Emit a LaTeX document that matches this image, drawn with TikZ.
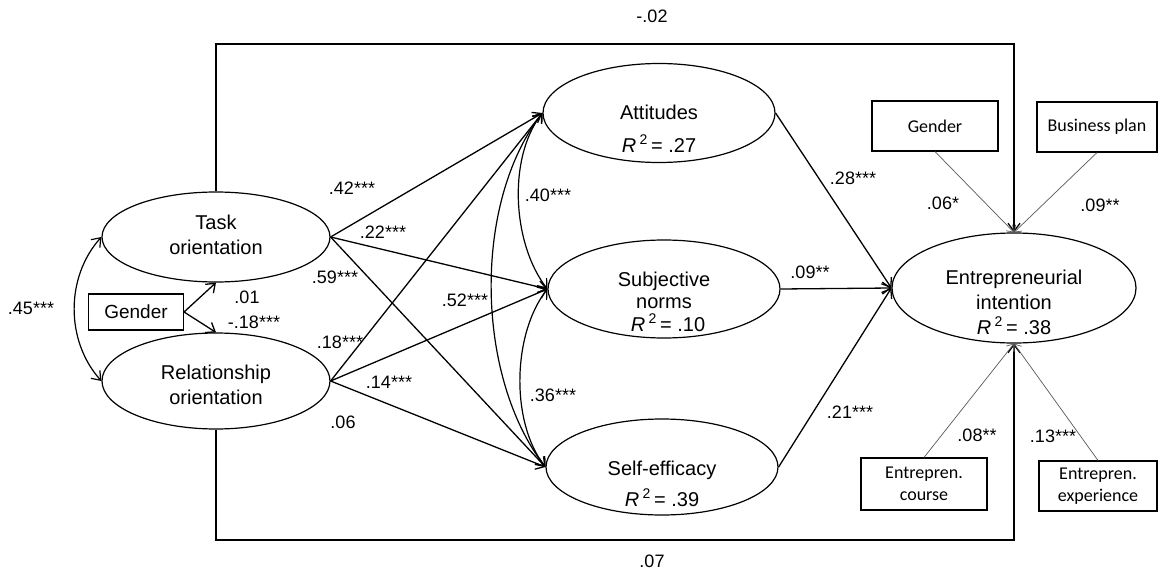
\documentclass[tikz,border=0pt]{standalone}
\usepackage{fontspec}
\setmainfont{Liberation Sans}
\newfontfamily\carlito{Carlito}
\usetikzlibrary{shapes.geometric,arrows.meta}
\begin{document}
\begin{tikzpicture}[x=1pt,y=-1pt,
  arr/.style={line width=1.3pt,-{Straight Barb[length=8pt,width=12pt]}},
  darr/.style={line width=1.2pt,{Straight Barb[length=8pt,width=12pt]}-{Straight Barb[length=8pt,width=12pt]}},
  thin/.style={line width=0.7pt,draw=black!65,-{Straight Barb[length=6pt,width=9pt]}},
  ell/.style={draw,ellipse,inner sep=0pt,line width=1.2pt},
  etext/.style={font=\fontsize{20}{23}\selectfont,inner sep=0pt,anchor=base},
  lab/.style={font=\fontsize{18}{20}\selectfont,inner sep=0pt,anchor=base},
  cbox/.style={draw,line width=1.1pt,inner sep=0pt,font=\carlito\fontsize{18}{22}\selectfont,align=center},
  abox/.style={draw,line width=1.1pt,inner sep=0pt,font=\fontsize{19}{22}\selectfont}
]
\useasboundingbox (0,0) rectangle (1160,578);
\fill[white] (0,0) rectangle (1160,578);

% ellipses
\node[ell,minimum width=228pt,minimum height=90pt] (task) at (216,237) {};
\node[ell,minimum width=228pt,minimum height=96pt] (rel) at (216,381) {};
\node[ell,minimum width=232pt,minimum height=99pt] (att) at (659,113) {};
\node[ell,minimum width=232pt,minimum height=98pt] (sn) at (664,289) {};
\node[ell,minimum width=232pt,minimum height=96pt] (se) at (662,467) {};
\node[ell,minimum width=244pt,minimum height=110pt] (ei) at (1014,288) {};

% ellipse texts
\node[etext] (task1) at (216,229) {Task};
\node[etext] (task2) at (216,254) {orientation};
\node[etext] (rel1) at (216,379) {Relationship};
\node[etext] (rel2) at (216,404) {orientation};
\node[etext] (att1) at (659,120) {Attitudes};
\node[etext] (att2) at (659,152) {\textit{R}\,\textsuperscript{2}\,= .27};
\node[etext] (sn1) at (664,286) {Subjective};
\node[etext] (sn2) at (664,308) {norms};
\node[etext] (sn3) at (668,331) {\textit{R}\,\textsuperscript{2}\,= .10};
\node[etext] (se1) at (662,475) {Self-efficacy};
\node[etext] (se2) at (662,506) {\textit{R}\,\textsuperscript{2}\,= .39};
\node[etext] (ei1) at (1014,284) {Entrepreneurial};
\node[etext] (ei2) at (1014,309) {intention};
\node[etext] (ei3) at (1014,334) {\textit{R}\,\textsuperscript{2}\,= .38};

% boxes
\node[abox,minimum width=95pt,minimum height=36pt] (g1) at (136,312) {Gender};
\node[cbox,minimum width=126pt,minimum height=50pt] (g2) at (935,126) {Gender};
\node[cbox,minimum width=120pt,minimum height=50pt] (bp) at (1097,127) {Business plan};
\node[cbox,minimum width=126pt,minimum height=52pt] (course) at (924,484) {Entrepren.\\course};
\node[cbox,minimum width=118pt,minimum height=50pt] (exp) at (1098,486) {Entrepren.\\experience};

% frame
\coordinate (tl) at (216,44);
\coordinate (tr) at (1014,44);
\coordinate (bl) at (216,540);
\coordinate (br) at (1014,540);
\draw[arr] (task.north) -- (tl) -- (tr) -- (ei.north);
\draw[arr] (rel.south) -- (bl) -- (br) -- (ei.south);

% paths
\draw[darr] (task.west) .. controls +(-36,40) and +(-36,-40) .. (rel.west);
\draw[arr] (g1.east) -- (task.south);
\draw[arr] (g1.east) -- (rel.north);
\draw[arr] (task.east) -- (att.west);
\draw[arr] (task.east) -- (sn.west);
\draw[arr] (task.east) -- (se.west);
\draw[arr] (rel.east) -- (att.west);
\draw[arr] (rel.east) -- (sn.west);
\draw[arr] (rel.east) -- (se.west);
\draw[darr] (att.west) .. controls +(-35,45) and +(-35,-45) .. (sn.west);
\draw[darr] (sn.west) .. controls +(-35,45) and +(-35,-45) .. (se.west);
\draw[darr] (att.west) .. controls +(-70,90) and +(-70,-90) .. (se.west);
\draw[arr] (att.east) -- (ei.west);
\draw[arr] (sn.east) -- (ei.west);
\draw[arr] (se.east) -- (ei.west);
\draw[thin] (g2.south) -- (ei.north);
\draw[thin] (bp.south) -- (ei.north);
\draw[thin] (course.north) -- (ei.south);
\draw[thin] (exp.north) -- (ei.south);

% labels
\node[lab] (l1) at (652,23) {-.02};
\node[lab] (l2) at (652,567) {.07};
\node[lab] (l3) at (31,314) {.45***};
\node[lab] (l4) at (247,303) {.01};
\node[lab] (l5) at (254,328) {-.18***};
\node[lab] (l6) at (352,194) {.42***};
\node[lab] (l7) at (383,238) {.22***};
\node[lab] (l8) at (335,283) {.59***};
\node[lab] (l9) at (340,348) {.18***};
\node[lab] (l10) at (389,388) {.14***};
\node[lab] (l11) at (343,428) {.06};
\node[lab] (l12) at (465,306) {.52***};
\node[lab] (l13) at (548,201) {.40***};
\node[lab] (l14) at (553,401) {.36***};
\node[lab] (l15) at (853,184) {.28***};
\node[lab] (l16) at (810,278) {.09**};
\node[lab] (l17) at (850,418) {.21***};
\node[lab] (l18) at (943,209) {.06*};
\node[lab] (l19) at (1100,211) {.09**};
\node[lab] (l20) at (977,441) {.08**};
\node[lab] (l21) at (1053,442) {.13***};
\end{tikzpicture}
\end{document}
